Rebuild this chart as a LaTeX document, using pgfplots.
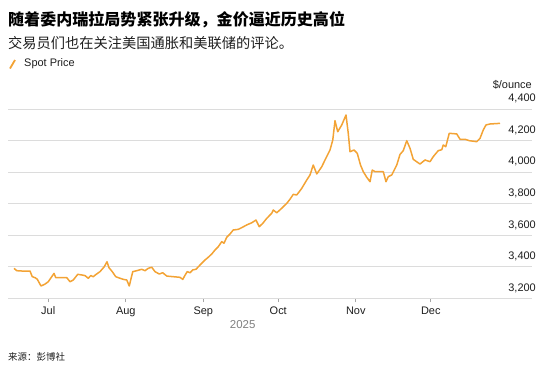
\documentclass[border=0pt]{standalone}
\usepackage{pgfplots}
\pgfplotsset{compat=1.18}
\usepackage{fontspec}
\setmainfont{Liberation Sans}
\newfontfamily\cjk{Noto Sans CJK SC}
\definecolor{gold}{RGB}{243,163,53}
\definecolor{gridc}{RGB}{220,220,220}
\definecolor{txt}{RGB}{30,30,30}
\begin{document}
\begin{tikzpicture}[x=1bp,y=1bp]
\path[use as bounding box] (0,0) rectangle (553,369);
\begin{axis}[
  at={(8bp,70.7bp)}, anchor=south west,
  scale only axis, width=524bp, height=189.3bp,
  xmin=-16.1, xmax=193.5, ymin=3200, ymax=4400,
  axis x line*=bottom, axis y line*=right,
  y axis line style={draw=none},
  x axis line style={draw=gridc, line width=1bp, -},
  ytick={3200,3400,...,4400},
  ymajorgrids, grid style={gridc, line width=0.9bp},
  major y tick style={draw=none},
  xtick={0,31,62,92,123,153},
  xticklabels={Jul,Aug,Sep,Oct,Nov,Dec},
  major x tick style={draw=gray!70, line width=0.8bp},
  tick align=outside, major tick length=4bp,
  /pgf/number format/assume math mode=true,
  /pgf/number format/1000 sep={,},
  yticklabel style={anchor=south east, inner sep=0pt, yshift=5.5bp, font=\fontsize{11}{13}\selectfont, text=txt},
  xticklabel style={font=\fontsize{11}{13}\selectfont, text=txt, yshift=-1.2bp},
  clip=false,
]
\addplot[gold, line width=1.5bp, line join=round] coordinates {
(-13.7,3390) (-12.6,3375) (-10.6,3373) (-7.3,3373) (-6.4,3337) (-5.3,3331) (-4.4,3321)
(-2.9,3278) (-1.3,3290) (0,3305) (1.4,3337) (2.3,3358) (3.0,3331) (4.0,3331)
(6.7,3331) (7.4,3331) (8.7,3305) (10,3316) (11.8,3352) (13.4,3348) (14.7,3344)
(16,3327) (17,3344) (18,3337) (19,3350) (20.7,3369) (22.4,3400) (23.5,3432)
(24.3,3394) (25.6,3369) (27,3337) (28.7,3327) (30,3320) (31.4,3316) (32.4,3278)
(33.8,3369) (35.4,3375) (37.4,3384) (38.7,3375) (40,3390) (41.4,3397) (42.7,3369)
(44.4,3354) (45.8,3362) (47.4,3341) (50,3337) (52.7,3333) (53.8,3320) (54.7,3346)
(55.6,3369) (56.7,3362) (57.8,3380) (59.1,3384) (60.7,3411) (62.7,3443) (64,3460)
(65.4,3481) (66.7,3506) (68,3527) (69.4,3559) (70.3,3549) (71.4,3587) (72.7,3608)
(74,3633) (76,3637) (77.4,3648) (79.4,3665) (81.4,3679) (83.1,3696) (84.4,3654)
(85.8,3675) (87.4,3707) (89.4,3739) (90,3760) (91.4,3742) (93.4,3771) (95.4,3802)
(96.7,3828) (98,3859) (99.4,3855) (101.4,3897) (103.4,3950) (104.7,3982) (106,4045)
(107.4,3988) (109.4,4034) (110.7,4077) (112.7,4140) (113.8,4203) (114.7,4326) (115.8,4256)
(117.4,4299) (119.1,4362) (120,4246) (120.7,4129) (122.3,4140) (123.6,4119) (124.9,4045)
(126,4003) (127.4,3967) (128.7,3939) (129.6,4013) (130.7,4003) (134,4003) (135.1,3939)
(136,3971) (137.4,3982) (139.4,4045) (140.7,4112) (142,4136) (143.4,4199) (144.7,4151)
(146,4081) (148.7,4051) (150.7,4077) (152.7,4066) (154,4098) (156,4136) (157.4,4142)
(158,4172) (159,4161) (160.4,4246) (163.4,4242) (164.7,4208) (166.7,4208) (168.4,4199)
(171.4,4193) (172.7,4214) (174,4267) (175.1,4299) (176.7,4305) (180.7,4309)
};
\end{axis}
\node[anchor=west, inner sep=0pt, text=black] at (8,349) {\cjk\bfseries\fontsize{16.1}{18}\selectfont 随着委内瑞拉局势紧张升级，金价逼近历史高位};
\node[anchor=west, inner sep=0pt, text=txt] at (8,326.3) {\cjk\fontsize{14.3}{16}\selectfont 交易员们也在关注美国通胀和美联储的评论。};
\draw[gold, line width=1.8bp] (10,300.5) -- (15,309);
\node[anchor=west, inner sep=0pt, text=txt] at (24,305.5) {\fontsize{11}{13}\selectfont Spot Price};
\node[anchor=east, inner sep=0pt, text=txt] at (532,284) {\fontsize{11}{13}\selectfont \$/ounce};
\node[anchor=center, inner sep=0pt, text=gray] at (242.7,44) {\fontsize{11.5}{13}\selectfont 2025};
\node[anchor=west, inner sep=0pt, text=txt] at (8,12.3) {\cjk\fontsize{9.5}{11}\selectfont 来源：彭博社};
\end{tikzpicture}
\end{document}
